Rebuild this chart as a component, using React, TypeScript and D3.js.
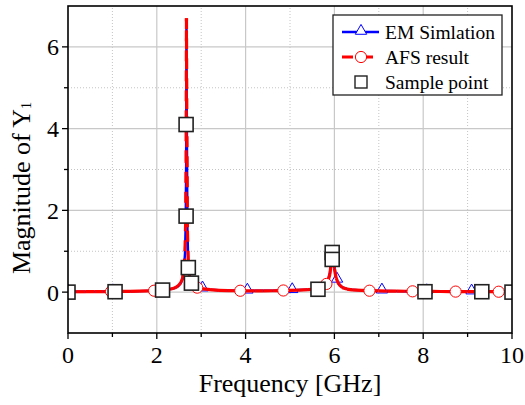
import React, { useEffect, useRef } from "react";
import * as d3 from "d3";

// curve samples (GHz) shared by both traces
const freqGHz = [
  0, 0.2, 0.4, 0.6, 0.8, 1.0, 1.2, 1.4, 1.6, 1.8,
  2.0, 2.15, 2.3, 2.4, 2.48, 2.54, 2.58, 2.61, 2.635, 2.65,
  2.66, 2.668, 2.676, 2.69, 2.71, 2.74, 2.78, 2.84, 2.91, 3.0,
  3.2, 3.4, 3.6, 3.8, 4.0, 4.2, 4.4, 4.6, 4.8, 5.0,
  5.2, 5.4, 5.55, 5.65, 5.74, 5.8, 5.86, 5.9, 5.93, 5.955,
  5.98, 6.0, 6.04, 6.1, 6.18, 6.28, 6.4, 6.6, 6.8, 7.0,
  7.2, 7.4, 7.6, 7.8, 8.0, 8.2, 8.4, 8.6, 8.8, 9.0,
  9.2, 9.4, 9.6, 9.8, 10.0,
];

const emMag = [
  0.01, 0.01, 0.011, 0.012, 0.014, 0.016, 0.018, 0.021, 0.025, 0.03,
  0.038, 0.05, 0.072, 0.1, 0.15, 0.22, 0.33, 0.53, 0.95, 1.65,
  3.1, 6.65, 4.4, 1.55, 0.66, 0.36, 0.22, 0.15, 0.11, 0.088,
  0.062, 0.047, 0.04, 0.035, 0.033, 0.032, 0.033, 0.035, 0.039, 0.044,
  0.051, 0.061, 0.072, 0.088, 0.125, 0.18, 0.3, 0.48, 0.76, 0.98,
  0.8, 0.6, 0.35, 0.2, 0.115, 0.078, 0.057, 0.044, 0.036, 0.031,
  0.027, 0.024, 0.022, 0.02, 0.018, 0.017, 0.016, 0.015, 0.014, 0.013,
  0.012, 0.011, 0.011, 0.01, 0.01,
];

const afsMag = [
  0.01, 0.01, 0.01, 0.012, 0.013, 0.015, 0.017, 0.02, 0.024, 0.029,
  0.037, 0.048, 0.07, 0.1, 0.15, 0.23, 0.34, 0.55, 1.0, 1.7,
  3.2, 6.7, 4.3, 1.5, 0.65, 0.35, 0.22, 0.15, 0.11, 0.085,
  0.06, 0.045, 0.038, 0.034, 0.032, 0.031, 0.032, 0.034, 0.038, 0.043,
  0.05, 0.06, 0.07, 0.085, 0.12, 0.17, 0.28, 0.45, 0.72, 1.0,
  0.78, 0.58, 0.34, 0.19, 0.11, 0.075, 0.055, 0.042, 0.035, 0.03,
  0.026, 0.023, 0.021, 0.019, 0.017, 0.016, 0.015, 0.014, 0.013, 0.012,
  0.011, 0.011, 0.01, 0.01, 0.01,
];

// marker positions
const emMarkFreq = [0, 1.01, 2.02, 3.03, 4.04, 5.05, 6.06, 7.07, 8.08, 9.09];
const emMarkMag = [0.01, 0.016, 0.04, 0.085, 0.033, 0.045, 0.3, 0.035, 0.018, 0.012];
const afsMarkFreq = [0, 0.97, 1.94, 2.91, 3.88, 4.85, 5.82, 6.79, 7.76, 8.73, 9.7];
const afsMarkMag = [0.01, 0.015, 0.035, 0.11, 0.034, 0.04, 0.2, 0.035, 0.019, 0.013, 0.01];
const sampleFreq = [0, 1.06, 2.13, 2.66, 2.66, 2.71, 2.78, 5.63, 5.95, 5.95, 8.04, 9.32, 10.0];
const sampleMag = [0, 0.01, 0.05, 4.1, 1.86, 0.6, 0.22, 0.07, 0.97, 0.8, 0.01, 0.01, 0];

const xTicks = [0, 2, 4, 6, 8, 10];
const xMinor = [1, 3, 5, 7, 9];
const yTicks = [0, 2, 4, 6];
const yMinor = [1, 3, 5];
const legendLabels = ["EM Simlation", "AFS result", "Sample point"];

const FONT = "'Times New Roman', Times, 'Liberation Serif', Tinos, 'DejaVu Serif', serif";

export default function App() {
  const ref = useRef<SVGSVGElement>(null);

  useEffect(() => {
    const svg = d3.select(ref.current);
    svg.selectAll("*").remove();

    const x = d3.scaleLinear().domain([0, 10]).range([68, 512]);
    const y = d3.scaleLinear().domain([-1, 7]).range([333, 6]);
    const [x0, x1] = x.range();
    const [y0, y1] = y.range();

    svg.append("rect").attr("width", 525).attr("height", 405).attr("fill", "white");

    svg.append("clipPath").attr("id", "plotclip")
      .append("rect").attr("x", x0).attr("y", y1).attr("width", x1 - x0).attr("height", y0 - y1);

    // grid
    const grid = svg.append("g");
    grid.selectAll(".gxm").data(xMinor).join("line")
      .attr("x1", (d) => x(d)).attr("x2", (d) => x(d)).attr("y1", y0).attr("y2", y1)
      .attr("stroke", "#c4c4c4").attr("stroke-dasharray", "1,2");
    grid.selectAll(".gym").data(yMinor).join("line")
      .attr("y1", (d) => y(d)).attr("y2", (d) => y(d)).attr("x1", x0).attr("x2", x1)
      .attr("stroke", "#c4c4c4").attr("stroke-dasharray", "1,2");
    grid.selectAll(".gx").data(xTicks.slice(1, -1)).join("line")
      .attr("x1", (d) => x(d)).attr("x2", (d) => x(d)).attr("y1", y0).attr("y2", y1)
      .attr("stroke", "#c8c8c8").attr("stroke-width", 1.2);
    grid.selectAll(".gy").data(yTicks).join("line")
      .attr("y1", (d) => y(d)).attr("y2", (d) => y(d)).attr("x1", x0).attr("x2", x1)
      .attr("stroke", "#c8c8c8").attr("stroke-width", 1.2);

    const plot = svg.append("g").attr("clip-path", "url(#plotclip)");

    const emPts: [number, number][] = freqGHz.map((f, i) => [x(f), y(emMag[i])]);
    const afsPts: [number, number][] = freqGHz.map((f, i) => [x(f), y(afsMag[i])]);

    // EM simulation: solid blue
    plot.append("path")
      .attr("d", d3.line()(emPts))
      .attr("fill", "none").attr("stroke", "#0000ff").attr("stroke-width", 2.4)
      .attr("stroke-linejoin", "round");

    const tri = d3.symbol().type(d3.symbolTriangle).size(56);
    plot.selectAll(".tri").data(emMarkFreq).join("path")
      .attr("d", tri()!)
      .attr("transform", (d, i) => `translate(${x(d)},${y(emMarkMag[i]) - 1})`)
      .attr("fill", "white").attr("stroke", "#0000ff").attr("stroke-width", 1);

    // AFS result: dashed red, dash pattern restarting per segment
    const segs = d3.pairs(afsPts);
    plot.selectAll(".seg").data(segs).join("path")
      .attr("d", (d) => d3.line()(d))
      .attr("fill", "none").attr("stroke", "#ff0000").attr("stroke-width", 3.2)
      .attr("stroke-dasharray", "11,9");

    plot.selectAll(".circ").data(afsMarkFreq).join("circle")
      .attr("cx", (d) => x(d)).attr("cy", (d, i) => y(afsMarkMag[i]))
      .attr("r", 5.6).attr("fill", "white").attr("stroke", "#ff0000").attr("stroke-width", 1);

    // sample points
    const sq = 14;
    plot.selectAll(".sq").data(sampleFreq).join("rect")
      .attr("x", (d) => x(d) - sq / 2).attr("y", (d, i) => y(sampleMag[i]) - sq / 2)
      .attr("width", sq).attr("height", sq)
      .attr("fill", "white").attr("stroke", "#222").attr("stroke-width", 1.6);

    // frame
    svg.append("rect").attr("x", x0).attr("y", y1).attr("width", x1 - x0).attr("height", y0 - y1)
      .attr("fill", "none").attr("stroke", "black").attr("stroke-width", 1.6);

    // ticks
    const ax = svg.append("g");
    ax.selectAll(".tx").data(xTicks).join("line")
      .attr("x1", (d) => x(d)).attr("x2", (d) => x(d)).attr("y1", y0).attr("y2", y0 + 6)
      .attr("stroke", "black").attr("stroke-width", 1.3);
    ax.selectAll(".txm").data(xMinor).join("line")
      .attr("x1", (d) => x(d)).attr("x2", (d) => x(d)).attr("y1", y0).attr("y2", y0 + 4)
      .attr("stroke", "black").attr("stroke-width", 1.3);
    ax.selectAll(".ty").data(yTicks).join("line")
      .attr("y1", (d) => y(d)).attr("y2", (d) => y(d)).attr("x1", x0 - 6).attr("x2", x0)
      .attr("stroke", "black").attr("stroke-width", 1.3);
    ax.selectAll(".tym").data(yMinor).join("line")
      .attr("y1", (d) => y(d)).attr("y2", (d) => y(d)).attr("x1", x0 - 4).attr("x2", x0)
      .attr("stroke", "black").attr("stroke-width", 1.3);

    ax.selectAll(".lx").data(xTicks).join("text")
      .attr("x", (d) => x(d)).attr("y", 363)
      .attr("text-anchor", "middle").attr("font-family", FONT).attr("font-size", 24)
      .text((d) => d);
    ax.selectAll(".ly").data(yTicks).join("text")
      .attr("x", 59).attr("y", (d) => y(d) + 8.5)
      .attr("text-anchor", "end").attr("font-family", FONT).attr("font-size", 24)
      .text((d) => d);

    svg.append("text").attr("x", (x0 + x1) / 2).attr("y", 392)
      .attr("text-anchor", "middle").attr("font-family", FONT).attr("font-size", 26)
      .text("Frequency [GHz]");

    const yl = svg.append("text")
      .attr("transform", "translate(30,188) rotate(-90)")
      .attr("text-anchor", "middle").attr("font-family", FONT).attr("font-size", 26);
    yl.append("tspan").text("Magnitude of Y");
    yl.append("tspan").attr("font-size", 14).attr("dy", 1).text("1");

    // legend
    const lg = svg.append("g");
    lg.append("rect").attr("x", 333).attr("y", 15).attr("width", 169).attr("height", 80)
      .attr("fill", "white").attr("stroke", "#222").attr("stroke-width", 1.3);
    const rows = [32, 57, 82];
    lg.append("line").attr("x1", 342).attr("x2", 379).attr("y1", rows[0]).attr("y2", rows[0])
      .attr("stroke", "#0000ff").attr("stroke-width", 2.4);
    lg.append("path").attr("d", tri()!).attr("transform", `translate(361,${rows[0] - 1})`)
      .attr("fill", "white").attr("stroke", "#0000ff").attr("stroke-width", 1);
    lg.append("line").attr("x1", 342).attr("x2", 379).attr("y1", rows[1]).attr("y2", rows[1])
      .attr("stroke", "#ff0000").attr("stroke-width", 3.2).attr("stroke-dasharray", "11,9");
    lg.append("circle").attr("cx", 361).attr("cy", rows[1]).attr("r", 5.6)
      .attr("fill", "white").attr("stroke", "#ff0000").attr("stroke-width", 1);
    lg.append("rect").attr("x", 355).attr("y", rows[2] - 6).attr("width", 12).attr("height", 12)
      .attr("fill", "white").attr("stroke", "#222").attr("stroke-width", 1.4);
    lg.selectAll(".lt").data(legendLabels).join("text")
      .attr("x", 385).attr("y", (d, i) => rows[i] + 7)
      .attr("font-family", FONT).attr("font-size", 19.5)
      .text((d) => d);
  }, []);

  return (
    <svg ref={ref} width={525} height={405} style={{ position: "absolute", left: 0, top: 0 }} />
  );
}
